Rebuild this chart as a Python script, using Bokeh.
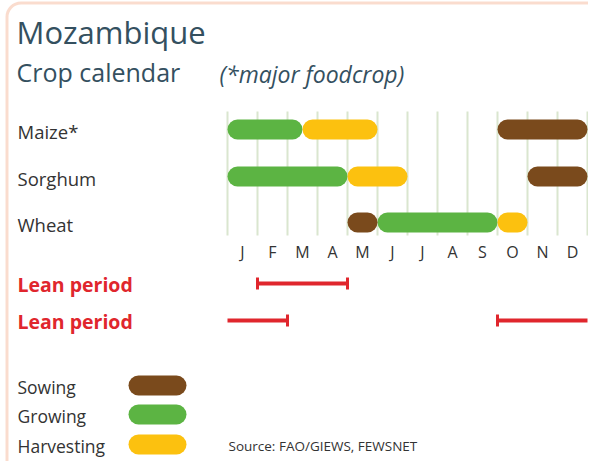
from bokeh.plotting import figure
from bokeh.models import Range1d, BoxAnnotation
from bokeh.core.properties import value
from bokeh.embed import file_html
from bokeh.resources import INLINE

# ---------------- data ----------------
crops = ["Maize*", "Sorghum", "Wheat"]
months = ["J", "F", "M", "A", "M", "J", "J", "A", "S", "O", "N", "D"]

# month index (0 = start of Jan, 12 = end of Dec)
sowing_start = [9, 10, 4]
sowing_end = [12, 12, 5]
growing_start = [0, 0, 5]
growing_end = [2.5, 4, 9]
harvest_start = [2.5, 4, 9]
harvest_end = [5, 6, 10]

lean_row = [0, 1, 1]
lean_start = [1, 0, 9]
lean_end = [4, 2, 12]

legend_labels = ["Sowing", "Growing", "Harvesting"]
source_text = "Source: FAO/GIEWS, FEWSNET"

# ---------------- layout ----------------
W, H = 588, 461
X0_PAGE = 227.0   # pixel x of Jan start
MONTH_W = 30.0


def dx(px):
    return (px - X0_PAGE) / MONTH_W


def dy(py):
    return py


BROWN = "#7a4a1c"
GREEN = "#5cb443"
YELLOW = "#fcc10f"
RED = "#e0262d"
GRID = "#dae6cf"
TITLE_C = "#34505f"
TEXT_C = "#333333"
FONT = "Open Sans"

row_y = [129, 176, 222]         # pixel y of crop rows
lean_y = [283, 320]
legend_y = [385, 414, 444]
BAR_H = 20
half = (BAR_H / 2) / MONTH_W

p = figure(width=W, height=H, output_backend="svg", toolbar_location=None,
           x_range=Range1d(dx(0), dx(W)),
           y_range=Range1d(dy(H), dy(0)),
           min_border=0, background_fill_color="white", border_fill_color="white")
p.axis.visible = False
p.grid.visible = False
p.outline_line_color = None

# frame
p.add_layout(BoxAnnotation(left=dx(6.5), right=dx(800), top=dy(2.5), bottom=dy(800),
                           fill_alpha=0, line_color="#f08b5c", line_width=3,
                           border_radius=14))

# grid lines
gx = list(range(13))
p.segment(x0=gx, x1=gx, y0=[dy(111)] * 13, y1=[dy(235)] * 13,
          line_color=GRID, line_width=2)


def pills(starts, ends, color):
    ys = [dy(row_y[i]) for i in range(len(starts))]
    p.segment(x0=[s + half for s in starts], x1=[e - half for e in ends],
              y0=ys, y1=ys, line_color=color, line_width=BAR_H, line_cap="round")


pills(growing_start, growing_end, GREEN)
pills(harvest_start, harvest_end, YELLOW)
pills(sowing_start, sowing_end, BROWN)

# crop labels
p.text(x=[dx(17)] * 3, y=[dy(y + 2) for y in row_y], text=crops,
       text_font=value(FONT), text_font_size="18.5px", text_color=TEXT_C,
       text_baseline="middle", text_align="left")

# month labels
p.text(x=[i + 0.5 for i in range(12)], y=[dy(251)] * 12, text=months,
       text_font=value(FONT), text_font_size="16px", text_color=TEXT_C,
       text_baseline="middle", text_align="center")

# lean periods
ly = [dy(lean_y[r]) for r in lean_row]
p.segment(x0=lean_start, x1=lean_end, y0=ly, y1=ly, line_color=RED, line_width=4)
cx, cy = [], []
for s, e, yy in zip(lean_start, lean_end, ly):
    for v in (s, e):
        if v not in (0, 12):
            cx.append(v)
            cy.append(yy)
p.segment(x0=cx, x1=cx, y0=[c - 6 for c in cy], y1=[c + 6 for c in cy],
          line_color=RED, line_width=3)
p.text(x=[dx(17)] * 2, y=[dy(y + 1) for y in lean_y], text=["Lean period"] * 2,
       text_font=value(FONT), text_font_size="19.5px", text_font_style="bold",
       text_color=RED, text_baseline="middle", text_align="left")

# legend
lgy = [dy(y) for y in legend_y]
p.segment(x0=[dx(138)] * 3, x1=[dx(176)] * 3, y0=lgy, y1=lgy,
          line_color=[BROWN, GREEN, YELLOW], line_width=BAR_H, line_cap="round")
p.text(x=[dx(17)] * 3, y=[y + 1 for y in lgy], text=legend_labels,
       text_font=value(FONT), text_font_size="17.5px", text_color=TEXT_C,
       text_baseline="middle", text_align="left")
p.text(x=[dx(228)], y=[dy(445)], text=[source_text],
       text_font=value(FONT), text_font_size="13.5px", text_color=TEXT_C,
       text_baseline="middle", text_align="left")

# titles
p.text(x=[dx(16)], y=[dy(31)], text=["Mozambique"],
       text_font=value(FONT), text_font_size="31px", text_color=TITLE_C,
       text_baseline="middle", text_align="left")
p.text(x=[dx(16)], y=[dy(71)], text=["Crop calendar"],
       text_font=value(FONT), text_font_size="25px", text_color=TITLE_C,
       text_baseline="middle", text_align="left")
p.text(x=[dx(219)], y=[dy(73)], text=["(*major foodcrop)"],
       text_font=value(FONT), text_font_size="23px", text_font_style="italic",
       text_color=TITLE_C, text_baseline="middle", text_align="left")

open("out.html", "w").write(file_html(p, INLINE))
